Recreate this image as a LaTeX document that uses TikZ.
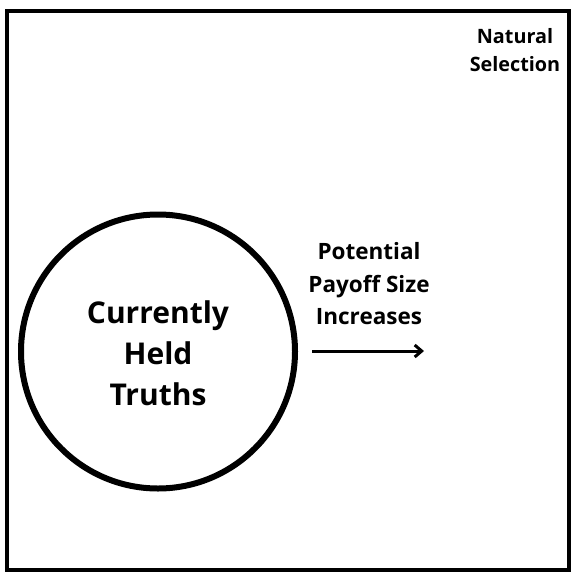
\documentclass[tikz,border=0pt]{standalone}
\usepackage{fontspec}
\setmainfont{Open Sans}
\usetikzlibrary{arrows.meta}
\begin{document}
\begin{tikzpicture}[x=1pt,y=-1pt,
  frame/.style={draw=black,line width=4pt},
  ring/.style={circle,draw=black,line width=6pt,minimum size=274pt,inner sep=0pt},
  bigtext/.style={align=center,font=\bfseries\fontsize{30}{41}\selectfont},
  midtext/.style={align=center,font=\bfseries\fontsize{22.5}{32.5}\selectfont},
  smalltext/.style={align=center,font=\bfseries\fontsize{19.8}{28.5}\selectfont},
  conn/.style={line width=3pt,-{Straight Barb[length=7pt,width=12pt,line width=3pt]}}]
\useasboundingbox (0,0) rectangle (578,576);
\draw[frame] (7,10.5) rectangle (569,570);
\node[ring] (circ) at (158,351.5) {};
\node[bigtext] (truths) at (158,353) {Currently\\Held\\Truths};
\node[midtext] (payoff) at (369,284) {Potential\\Payoff Size\\Increases};
\node[smalltext] (natsel) at (515,50) {Natural\\Selection};
\coordinate (a1) at (312,351);
\coordinate (a2) at (424,351);
\draw[conn] (a1) -- (a2);
\end{tikzpicture}
\end{document}
